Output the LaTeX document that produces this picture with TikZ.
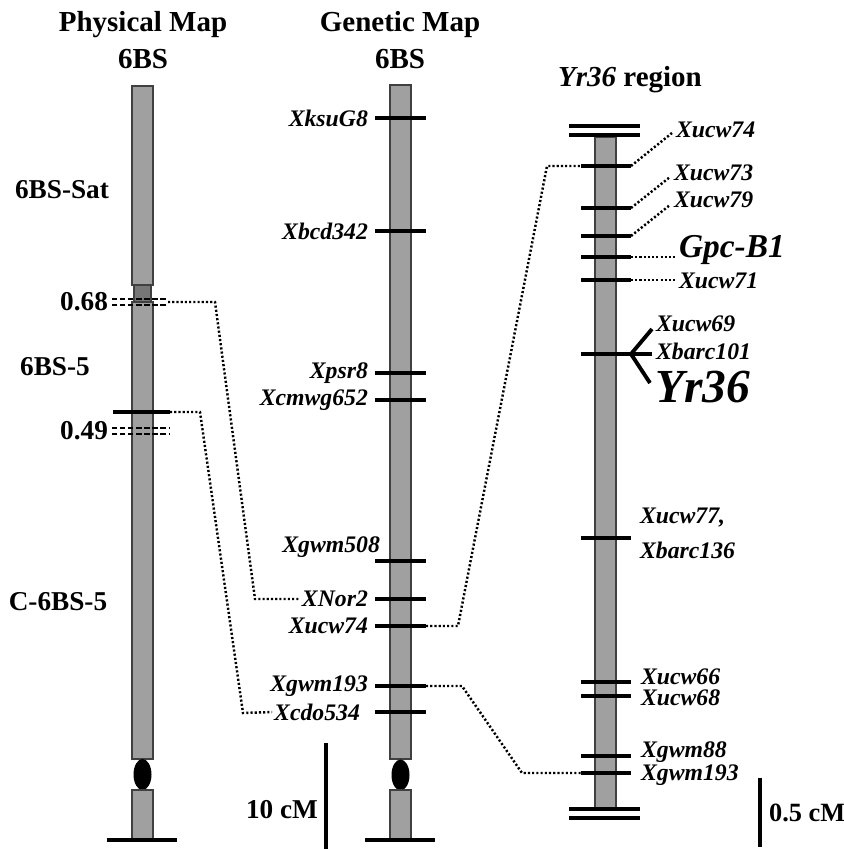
\documentclass[tikz,border=0pt]{standalone}
\usepackage{fontspec}
\setmainfont{Liberation Serif}
\usetikzlibrary{positioning,calc}
\definecolor{chromgray}{RGB}{160,160,160}
\definecolor{chromdark}{RGB}{118,118,118}

\begin{document}
\begin{tikzpicture}[x=0.02cm, y=-0.02cm,
    chrom/.style={draw=black!75, line width=0.8pt, fill=chromgray},
    tick/.style={line width=2.2pt},
    link/.style={line width=1.4pt, dash pattern=on 1.2pt off 1.2pt},
    brk/.style={line width=1.3pt, dash pattern=on 3pt off 1.6pt},
    mk/.style={font=\fontsize{13.5}{20}\selectfont\bfseries\itshape, inner sep=1pt},
    head/.style={font=\fontsize{16.5}{21.5}\selectfont\bfseries, align=center},
    arm/.style={font=\fontsize{15.5}{17}\selectfont\bfseries, inner sep=1pt},
  ]
    \useasboundingbox (0,0) rectangle (844,849);

    % Titles
    \node[head] (phyhead) at (143,40) {Physical Map\\6BS};
    \node[head] (genhead) at (400,40) {Genetic Map\\6BS};
    \node[head] (yrhead) at (630,80) {\textit{Yr36} region};

    % Physical map
    \draw[chrom] (132,86) rectangle (153,285);
    \draw[chrom, fill=chromdark] (134,285) rectangle (151,302);
    \draw[chrom] (132,302) rectangle (153,759);
    \fill (142.5,774.5) ellipse (9 and 15.5);
    \draw[chrom] (132,790) rectangle (153,840);
    \draw[tick] (107,840) -- (177,840);

    \node[arm] (sat) at (62,190) {6BS-Sat};
    \node[arm] (bs5) at (55,367) {6BS-5};
    \node[arm] (cbs5) at (58,602) {C-6BS-5};

    \draw[brk] (112,299) -- (168,299);
    \draw[brk] (112,305) -- (168,305) coordinate (p68);
    \node[arm, anchor=east] (n68) at (110,302) {0.68};
    \draw[tick] (113,412) -- (170,412) coordinate (p49);
    \draw[brk] (112,428) -- (170,428);
    \draw[brk] (112,434) -- (170,434);
    \node[arm, anchor=east] (n49) at (110,431) {0.49};

    % Genetic map
    \draw[chrom] (390,85) rectangle (411,759);
    \fill (400.5,775) ellipse (9 and 15.5);
    \draw[chrom] (390,790) rectangle (411,840);
    \draw[tick] (365,840) -- (435,840);

    \foreach \y/\n/\x/\t in {118/ksu/370/XksuG8, 231/bcd/370/Xbcd342, 373/psr/370/Xpsr8,
        400/cmwg/370/Xcmwg652, 599/nor/370/XNor2, 626/ucw/370/Xucw74,
        686/gwm/370/Xgwm193, 712/cdo/362/Xcdo534} {
      \draw[tick] (375,\y) coordinate (g-\n-w) -- (426,\y) coordinate (g-\n-e);
      \node[mk, anchor=east] (gl-\n) at (\x,\y) {\t};
    }
    \draw[tick] (375,561) coordinate (g-gwm508-w) -- (426,561) coordinate (g-gwm508-e);
    \node[mk, anchor=east] (gl-gwm508) at (382,547) {Xgwm508};

    % Yr36 region
    \draw[chrom] (595,137) rectangle (616,808);
    \draw[tick] (569,126) -- (640,126);
    \draw[tick] (569,135) -- (640,135);
    \draw[tick] (569,809) -- (640,809);
    \draw[tick] (569,818) -- (640,818);

    \foreach \y/\n in {166/a, 208/b, 236/c, 257/d, 280/e, 354/f, 538/g, 682/h, 696/i, 756/j, 773/k} {
      \draw[tick] (581,\y) coordinate (r-\n-w) -- (631,\y) coordinate (r-\n-e);
    }

    \node[mk, anchor=west] (rl-a) at (674,130) {Xucw74};
    \node[mk, anchor=west] (rl-b) at (672,173) {Xucw73};
    \node[mk, anchor=west] (rl-c) at (672,200) {Xucw79};
    \node[mk, anchor=west, font=\fontsize{19}{20}\selectfont\bfseries\itshape] (rl-d) at (677,250) {Gpc-B1};
    \node[mk, anchor=west] (rl-e) at (677,281) {Xucw71};
    \node[mk, anchor=west] (rl-f1) at (654,324) {Xucw69};
    \node[mk, anchor=west] (rl-f2) at (654,351) {Xbarc101};
    \node[mk, anchor=west, font=\fontsize{27}{28}\selectfont\bfseries\itshape] (rl-f3) at (653,387) {Yr36};
    \node[mk, anchor=west, align=left] (rl-g) at (638,533) {Xucw77,\\Xbarc136};
    \node[mk, anchor=west] (rl-h) at (639,677) {Xucw66};
    \node[mk, anchor=west] (rl-i) at (639,698) {Xucw68};
    \node[mk, anchor=west] (rl-j) at (639,752) {Xgwm88};
    \node[mk, anchor=west] (rl-k) at (639,775) {Xgwm193};

    % Label leaders
    \draw[link] (r-a-e) -- (672,133);
    \draw[link] (r-b-e) -- (670,177);
    \draw[link] (r-c-e) -- (670,205);
    \draw[link] (r-d-e) -- (rl-d.west |- r-d-e);
    \draw[link] (r-e-e) -- (rl-e.west |- r-e-e);
    \draw[tick] (r-f-e) -- (652,329);
    \draw[tick] (r-f-e) -- (652,354);
    \draw[tick] (r-f-e) -- (650,383);

    % Links between maps
    \draw[link] (p68) ++(0,-3) -- (215,302) -- (255,599) -- (gl-nor.west |- g-nor-w);
    \draw[link] (p49) -- (200,412) -- (243,713) -- (gl-cdo.west);
    \draw[link] (g-ucw-e) -- (458,626) -- (547,166) -- (r-a-w);
    \draw[link] (g-gwm-e) -- (462,686) -- (522,773) -- (r-k-w);

    % Scale bars
    \draw[tick] (326,743) coordinate (s10a) -- (326,849) coordinate (s10b);
    \node[arm, anchor=east] (s10) at (320,810) {10 cM};
    \draw[tick] (760,778) coordinate (s05a) -- (760,847) coordinate (s05b);
    \node[arm, anchor=west, font=\fontsize{15}{16}\selectfont\bfseries] (s05) at (767,813) {0.5 cM};
  \end{tikzpicture}
\end{document}
